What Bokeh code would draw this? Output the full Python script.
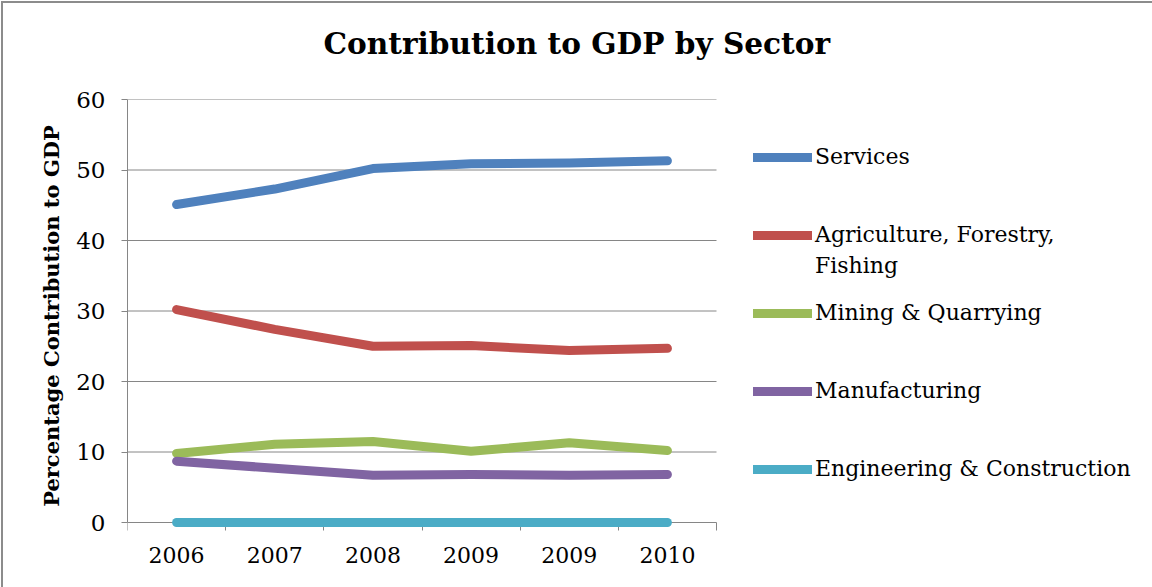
from bokeh.plotting import figure
from bokeh.models import (FixedTicker, Legend, LegendItem, Title, LinearAxis,
                          ColumnDataSource, Range1d)
from bokeh.embed import file_html
from bokeh.resources import INLINE

years = ["2006", "2007", "2008", "2009", "2009", "2010"]
services = [45.1, 47.3, 50.2, 50.9, 51.0, 51.3]
agriculture = [30.2, 27.4, 25.0, 25.1, 24.4, 24.7]
mining = [9.8, 11.1, 11.5, 10.1, 11.3, 10.2]
manufacturing = [8.7, 7.7, 6.7, 6.8, 6.7, 6.8]
engineering = [0.0, 0.0, 0.0, 0.0, 0.0, 0.0]
y_ticks = [0, 10, 20, 30, 40, 50, 60]

series_names = ["Services", "Agriculture, Forestry,", "Mining & Quarrying",
                "Manufacturing", "Engineering & Construction"]
series_values = [services, agriculture, mining, manufacturing, engineering]
colors = ["#4F81BD", "#C0504D", "#9BBB59", "#8064A2", "#4BACC6"]

FONT = "DejaVu Serif"
GRID = "#868686"

n = len(years)
xs = [i + 0.5 for i in range(n)]

# layout (page pixels)
LEFT, TOP = 127, 99
SHIFT = 21                         # extra top border hidden above the page
FRAME_W, FRAME_H = 1021, 433
CAT_W, PLOT_H = 589, 423          # pixel size of the 0-6 x 0-60 area
x_end = n * FRAME_W / CAT_W
y_start = y_ticks[-1] - FRAME_H * y_ticks[-1] / PLOT_H
FRAME_BOTTOM = TOP + FRAME_H

p = figure(frame_width=FRAME_W, frame_height=FRAME_H, output_backend="svg",
           toolbar_location=None,
           x_range=Range1d(0, x_end), y_range=Range1d(y_start, y_ticks[-1]),
           min_border_left=LEFT, min_border_right=4, min_border_top=TOP + SHIFT,
           min_border_bottom=587 - FRAME_BOTTOM,
           styles={"margin-top": f"-{SHIFT}px",
                   "box-shadow": f"inset 1px {SHIFT + 1}px 0 0 #ffffff, "
                                 f"inset 3px {SHIFT + 3}px 0 0 #8c8c8c"})
p.outline_line_color = None
p.background_fill_color = "white"
p.border_fill_alpha = 0
p.xgrid.grid_line_color = None
p.ygrid.grid_line_color = None

# label axis below the frame: category names at the centres
p.xaxis.ticker = FixedTicker(ticks=xs, minor_ticks=[])
p.xaxis.major_label_overrides = {x: y for x, y in zip(xs, years)}
p.xaxis.major_tick_line_color = None
p.xaxis.minor_tick_line_color = None
p.xaxis.axis_line_color = None
p.xaxis.major_label_text_font = FONT
p.xaxis.major_label_text_font_size = "22px"
p.xaxis.major_label_text_color = "black"
p.xaxis.major_label_standoff = 8

# axis line at y=0 with tick marks at the category boundaries
ax0 = LinearAxis(fixed_location=0, bounds=(0, n),
                 ticker=FixedTicker(ticks=[], minor_ticks=list(range(n + 1))),
                 major_label_text_font_size="0px", major_tick_line_color=None,
                 minor_tick_out=8, minor_tick_in=0, minor_tick_line_color=GRID,
                 axis_line_color=GRID, level="underlay")
p.add_layout(ax0, "below")

p.yaxis.bounds = (0, y_ticks[-1])
p.yaxis.ticker = FixedTicker(ticks=y_ticks, minor_ticks=[])
p.yaxis.major_tick_out = 6
p.yaxis.major_tick_in = 0
p.yaxis.major_tick_line_color = GRID
p.yaxis.axis_line_color = GRID
p.yaxis.major_label_text_font = FONT
p.yaxis.major_label_text_font_size = "23px"
p.yaxis.major_label_text_color = "black"
p.yaxis.major_label_standoff = 16
p.yaxis.axis_label = "Percentage Contribution to GDP"
p.yaxis.axis_label_text_font = FONT
p.yaxis.axis_label_text_font_style = "bold"
p.yaxis.axis_label_text_font_size = "21px"
p.yaxis.axis_label_text_color = "black"
p.yaxis.axis_label_standoff = 9

# horizontal grid lines over the category area only
p.segment(x0=[0] * (len(y_ticks) - 1), x1=[n] * (len(y_ticks) - 1),
          y0=y_ticks[1:], y1=y_ticks[1:], line_color=GRID, line_width=1)

p.title = Title(text="Contribution to GDP by Sector", text_font=FONT, text_font_style="bold",
                text_font_size="29.6px", text_color="black", align="left", offset=196,
                standoff=77)

H = 24


def add_legend(label, renderer, cy):
    leg = Legend(items=[LegendItem(label=label, renderers=[renderer])],
                 location=(626, FRAME_BOTTOM - cy - H // 2),
                 padding=0, margin=0, border_line_alpha=0, background_fill_alpha=0,
                 glyph_width=59, glyph_height=H, label_height=H, label_standoff=3,
                 label_text_font=FONT, label_text_font_size="22px", label_text_color="black")
    p.add_layout(leg, "center")


centers = [157, 235, 313, 391, 469]   # legend item centres (page px)
for name, vals, col, cy in zip(series_names, series_values, colors, centers):
    src = ColumnDataSource(dict(x=xs, y=vals))
    r = p.line("x", "y", source=src, line_color=col, line_width=9,
               line_cap="round", line_join="round")
    add_legend(name, r, cy)

# second line of the wrapped "Agriculture, Forestry, Fishing" legend label
blank = p.line(x=[], y=[], line_alpha=0)
add_legend("Fishing", blank, 266)

open("out.html", "w").write(file_html(p, INLINE))
